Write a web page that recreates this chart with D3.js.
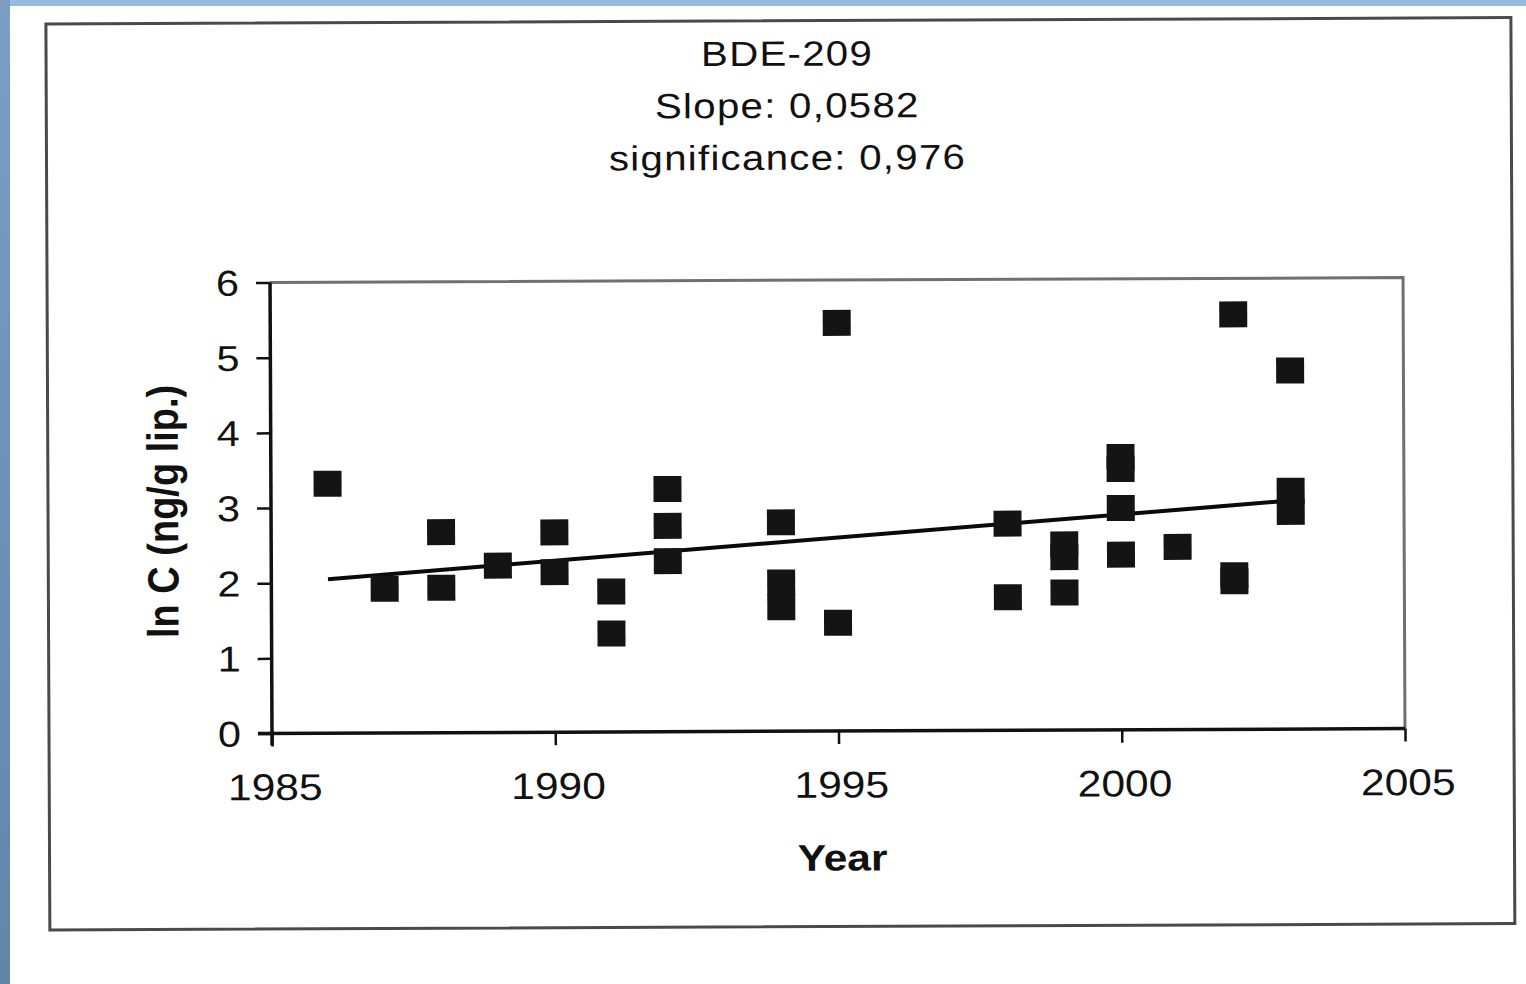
<!DOCTYPE html>
<html>
<head>
<meta charset="utf-8">
<script src="https://cdn.jsdelivr.net/npm/d3@7"></script>
<style>
  html, body { margin: 0; padding: 0; background: #ffffff; }
  svg { display: block; }
  text { font-family: Arial, "Liberation Sans", sans-serif; fill: #111; }
</style>
</head>
<body>
<svg id="chart" width="1526" height="984"></svg>
<script>
// BDE-209 time trend, ln of lipid-normalised concentration per sampling year
const years  = [1986, 1987, 1988, 1988, 1989, 1990, 1990, 1991, 1991,
                1992, 1992, 1992, 1994, 1994, 1994, 1995, 1995,
                1998, 1998, 1999, 1999, 1999, 2000, 2000, 2000, 2000,
                2001, 2002, 2002, 2002, 2003, 2003, 2003];
const lnConc = [3.32, 1.92, 2.67, 1.93, 2.22, 2.66, 2.13, 1.87, 1.31,
                3.23, 2.74, 2.27, 2.78, 1.98, 1.65, 5.43, 1.44,
                2.75, 1.77, 2.47, 2.30, 1.83, 3.63, 3.47, 2.95, 2.33,
                2.43, 5.52, 2.05, 1.97, 4.77, 3.17, 2.89];

const titleLines = ["BDE-209", "Slope: 0,0582", "significance: 0,976"];
const xTicks = [1985, 1990, 1995, 2000, 2005];
const yTicks = [0, 1, 2, 3, 4, 5, 6];

// regression line: stated slope, value at the first sampling year
const slope = 0.0582;
const trendStartYear = 1986;
const trendEndYear = 2003;
const trendStartValue = 2.05;

const svg = d3.select("#chart");

// background frame strips
svg.append("rect").attr("x", 0).attr("y", 0).attr("width", 1526).attr("height", 984).attr("fill", "#ffffff");
const grad = svg.append("defs").append("linearGradient")
  .attr("id", "sideGrad").attr("x1", 0).attr("y1", 0).attr("x2", 0).attr("y2", 1);
grad.append("stop").attr("offset", "0%").attr("stop-color", "#7a9ec4");
grad.append("stop").attr("offset", "100%").attr("stop-color", "#5f87aa");
svg.append("rect").attr("x", 0).attr("y", 0).attr("width", 1526).attr("height", 6).attr("fill", "#97badf");
svg.append("rect").attr("x", 0).attr("y", 0).attr("width", 10).attr("height", 984).attr("fill", "url(#sideGrad)");

const x = d3.scaleLinear().domain([1985, 2005]).range([272, 1405]);
const y = d3.scaleLinear().domain([0, 6]).range([733.5, 282.5]);

// whole chart sits slightly tilted
const g = svg.append("g").attr("transform", "rotate(-0.25, 272, 733)");

// outer chart border
g.append("rect")
  .attr("x", 49).attr("y", 23).attr("width", 1465).attr("height", 906)
  .attr("fill", "none").attr("stroke", "#4a4a4a").attr("stroke-width", 3);

// plot area border (top and right)
g.append("path")
  .attr("d", `M${x(1985)},${y(6)} H${x(2005)} V${y(0)}`)
  .attr("fill", "none").attr("stroke", "#707070").attr("stroke-width", 3);

const fontScale = 1.15;
function hText(parent, tx, ty, str, size, anchor, weight, spacing) {
  parent.append("g")
    .attr("transform", `translate(${tx},${ty}) scale(${fontScale},1)`)
    .append("text")
    .attr("text-anchor", anchor)
    .attr("font-size", size)
    .attr("font-weight", weight || "normal")
    .attr("letter-spacing", spacing || 0)
    .text(str);
}

// title
titleLines.forEach((t, i) => hText(g, 790, 68 + i * 52, t, 35, "middle", "normal", 1.1));

// y axis
const yAxis = d3.axisLeft(y).tickValues(yTicks).tickSize(14).tickPadding(0).tickFormat("");
const yAxisG = g.append("g").attr("transform", `translate(${x(1985)},0)`).call(yAxis);
yAxisG.select(".domain").attr("stroke", "#111").attr("stroke-width", 3.5)
  .attr("d", `M0,${y(6)}V${y(0) + 12}`);
yAxisG.selectAll(".tick line").attr("stroke", "#111").attr("stroke-width", 2.5);
yTicks.forEach(v => hText(g, x(1985) - 31, y(v) + 13, String(v), 36, "end"));

// x axis
const xAxis = d3.axisBottom(x).tickValues(xTicks).tickSize(13).tickPadding(0).tickFormat("");
const xAxisG = g.append("g").attr("transform", `translate(0,${y(0)})`).call(xAxis);
xAxisG.select(".domain").attr("stroke", "#111").attr("stroke-width", 3.5)
  .attr("d", `M${x(1985) - 14},0H${x(2005)}`);
xAxisG.selectAll(".tick line").attr("stroke", "#111").attr("stroke-width", 2.5);
xTicks.forEach(v => hText(g, x(v) + 3, 800, String(v), 37, "middle"));

// axis titles
hText(g, 842, 873, "Year", 37, "middle", "bold");
g.append("g")
  .attr("transform", `translate(179,511) scale(${fontScale},1) rotate(-90)`)
  .append("text")
  .attr("text-anchor", "middle")
  .attr("font-size", 38)
  .attr("font-weight", "bold")
  .text("ln C (ng/g lip.)");

// trend line
const trend = [trendStartYear, trendEndYear].map(yr => [yr, trendStartValue + slope * (yr - trendStartYear)]);
g.append("path")
  .datum(trend)
  .attr("d", d3.line().x(d => x(d[0])).y(d => y(d[1])))
  .attr("fill", "none").attr("stroke", "#0a0a0a").attr("stroke-width", 4);

// data markers
const mw = 28, mh = 26;
g.append("g").selectAll("rect")
  .data(years.map((yr, i) => ({ yr, v: lnConc[i] })))
  .join("rect")
  .attr("x", d => x(d.yr) - mw / 2)
  .attr("y", d => y(d.v) - mh / 2)
  .attr("width", mw).attr("height", mh)
  .attr("fill", "#141414");
</script>
</body>
</html>
